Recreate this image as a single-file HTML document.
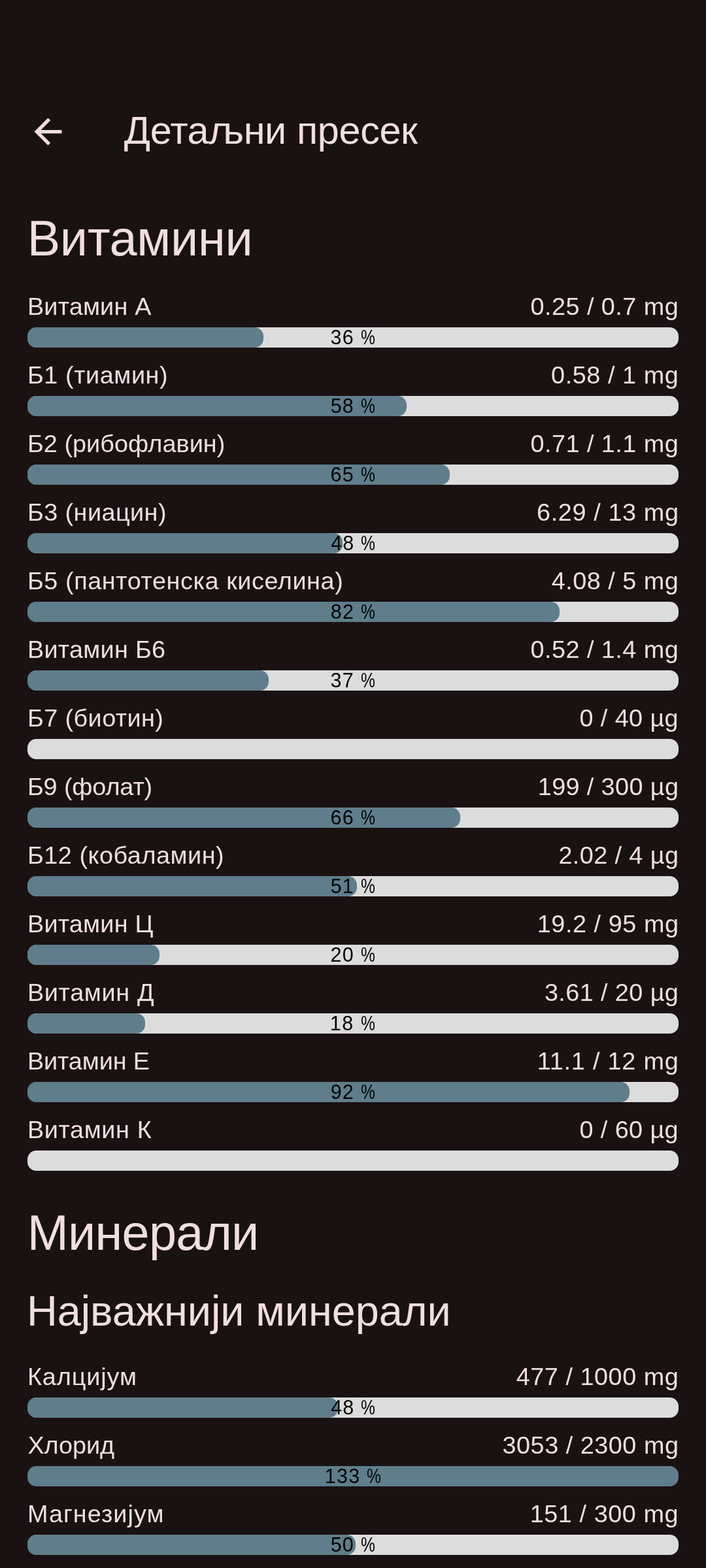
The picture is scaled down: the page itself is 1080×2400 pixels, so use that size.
<!DOCTYPE html>
<html lang="sr">
<head>
<meta charset="utf-8">
<meta name="viewport" content="width=1080">
<title>Детаљни пресек</title>
<style>
html,body{margin:0;padding:0;}
body{width:1080px;height:2400px;background:#1a1112;overflow:hidden;position:relative;font-family:"Liberation Sans", sans-serif;color:#f0dee0;}
header,main,section{display:block;margin:0;padding:0;}
.appbar{position:absolute;left:0;top:144px;width:1080px;height:147px;}
.back{position:absolute;left:42px;top:26px;width:63px;height:63px;}
.t{position:absolute;white-space:nowrap;line-height:1;margin:0;padding:0;font-weight:400;}
.title{font-size:59.4px;}
.h1{font-size:75.6px;}
.h2{font-size:64.8px;}
.lab,.val{font-size:37.8px;}
.pct{font-size:30.5px;color:#000000;}
.pc{display:inline-block;transform:scaleX(.81);transform-origin:0 50%;}
.row{position:absolute;left:0;width:1080px;height:105px;}
.bar{position:absolute;left:42px;width:996px;height:31.5px;border-radius:13.5px;background:#dcdcdc;overflow:hidden;}
.fill{position:absolute;left:0;top:0;height:100%;border-radius:13.5px;background:#607d8b;}
.bar.full{background:#607d8b;}
</style>
</head>
<body>
<header class="appbar">
<svg class="back" viewBox="0 0 24 24" role="img" aria-label="Назад"><path fill="#f0dee0" d="M20 11H7.83l5.59-5.59L12 4l-8 8 8 8 1.41-1.41L7.83 13H20v-2z"/></svg>
<h1 class="t title" style="left:189.85px;top:26px;letter-spacing:-0.37px">Детаљни пресек</h1>
</header>
<main>
<section aria-label="Витамини">
<h2 class="t h1" style="left:41.66px;top:328px;letter-spacing:-0.21px">Витамини</h2>
<div class="row" style="top:440px">
  <div class="t lab" style="left:41.95px;top:11px;letter-spacing:0.19px">Витамин А</div>
  <div class="t val" style="left:811.49px;top:11px;letter-spacing:0.47px">0.25 / 0.7 mg</div>
  <div class="bar" style="top:60.75px;background:linear-gradient(to right,#607d8b 344.8px,#dcdcdc 344.8px)"><div class="fill" style="width:360.8px"></div></div>
  <div class="t pct" style="left:505.57px;top:61px;letter-spacing:1.23px">36 <span class="pc">%</span></div>
</div>
<div class="row" style="top:545px">
  <div class="t lab" style="left:41.95px;top:11px;letter-spacing:0.58px">Б1 (тиамин)</div>
  <div class="t val" style="left:843.05px;top:11px;letter-spacing:0.56px">0.58 / 1 mg</div>
  <div class="bar" style="top:60.75px;background:linear-gradient(to right,#607d8b 563.7px,#dcdcdc 563.7px)"><div class="fill" style="width:579.7px"></div></div>
  <div class="t pct" style="left:505.68px;top:61px;letter-spacing:1.19px">58 <span class="pc">%</span></div>
</div>
<div class="row" style="top:650px">
  <div class="t lab" style="left:41.95px;top:11px;letter-spacing:0.05px">Б2 (рибофлавин)</div>
  <div class="t val" style="left:811.49px;top:11px;letter-spacing:0.47px">0.71 / 1.1 mg</div>
  <div class="bar" style="top:60.75px;background:linear-gradient(to right,#607d8b 630.2px,#dcdcdc 630.2px)"><div class="fill" style="width:646.2px"></div></div>
  <div class="t pct" style="left:505.58px;top:61px;letter-spacing:1.23px">65 <span class="pc">%</span></div>
</div>
<div class="row" style="top:755px">
  <div class="t lab" style="left:41.95px;top:11px;letter-spacing:0.44px">Б3 (ниацин)</div>
  <div class="t val" style="left:821.04px;top:11px;letter-spacing:0.62px">6.29 / 13 mg</div>
  <div class="bar" style="top:60.75px;background:linear-gradient(to right,#607d8b 465.75px,#dcdcdc 465.75px)"><div class="fill" style="width:481.75px"></div></div>
  <div class="t pct" style="left:506.3px;top:61px;letter-spacing:0.99px">48 <span class="pc">%</span></div>
</div>
<div class="row" style="top:860px">
  <div class="t lab" style="left:41.95px;top:11px;letter-spacing:0.58px">Б5 (пантотенска киселина)</div>
  <div class="t val" style="left:843.72px;top:11px;letter-spacing:0.49px">4.08 / 5 mg</div>
  <div class="bar" style="top:60.75px;background:linear-gradient(to right,#607d8b 797.75px,#dcdcdc 797.75px)"><div class="fill" style="width:813.75px"></div></div>
  <div class="t pct" style="left:505.78px;top:61px;letter-spacing:1.16px">82 <span class="pc">%</span></div>
</div>
<div class="row" style="top:965px">
  <div class="t lab" style="left:41.95px;top:11px;letter-spacing:0.28px">Витамин Б6</div>
  <div class="t val" style="left:811.49px;top:11px;letter-spacing:0.47px">0.52 / 1.4 mg</div>
  <div class="bar" style="top:60.75px;background:linear-gradient(to right,#607d8b 353px,#dcdcdc 353px)"><div class="fill" style="width:369px"></div></div>
  <div class="t pct" style="left:505.57px;top:61px;letter-spacing:1.23px">37 <span class="pc">%</span></div>
</div>
<div class="row" style="top:1070px">
  <div class="t lab" style="left:41.95px;top:11px;letter-spacing:0.42px">Б7 (биотин)</div>
  <div class="t val" style="left:886.49px;top:11px;letter-spacing:0.41px">0 / 40 µg</div>
  <div class="bar" style="top:60.75px"></div>
</div>
<div class="row" style="top:1175px">
  <div class="t lab" style="left:41.95px;top:11px;letter-spacing:-0.12px">Б9 (фолат)</div>
  <div class="t val" style="left:822.72px;top:11px;letter-spacing:0.39px">199 / 300 µg</div>
  <div class="bar" style="top:60.75px;background:linear-gradient(to right,#607d8b 645.8px,#dcdcdc 645.8px)"><div class="fill" style="width:661.8px"></div></div>
  <div class="t pct" style="left:505.58px;top:61px;letter-spacing:1.23px">66 <span class="pc">%</span></div>
</div>
<div class="row" style="top:1280px">
  <div class="t lab" style="left:41.95px;top:11px;letter-spacing:0.53px">Б12 (кобаламин)</div>
  <div class="t val" style="left:854.43px;top:11px;letter-spacing:0.41px">2.02 / 4 µg</div>
  <div class="bar" style="top:60.75px;background:linear-gradient(to right,#607d8b 488px,#dcdcdc 488px)"><div class="fill" style="width:504px"></div></div>
  <div class="t pct" style="left:505.68px;top:61px;letter-spacing:1.19px">51 <span class="pc">%</span></div>
</div>
<div class="row" style="top:1385px">
  <div class="t lab" style="left:41.95px;top:11px;letter-spacing:0.23px">Витамин Ц</div>
  <div class="t val" style="left:821.72px;top:11px;letter-spacing:0.56px">19.2 / 95 mg</div>
  <div class="bar" style="top:60.75px;background:linear-gradient(to right,#607d8b 185.75px,#dcdcdc 185.75px)"><div class="fill" style="width:201.75px"></div></div>
  <div class="t pct" style="left:505.38px;top:61px;letter-spacing:1.3px">20 <span class="pc">%</span></div>
</div>
<div class="row" style="top:1490px">
  <div class="t lab" style="left:41.95px;top:11px;letter-spacing:0.67px">Витамин Д</div>
  <div class="t val" style="left:832.93px;top:11px;letter-spacing:0.41px">3.61 / 20 µg</div>
  <div class="bar" style="top:60.75px;background:linear-gradient(to right,#607d8b 164px,#dcdcdc 164px)"><div class="fill" style="width:180px"></div></div>
  <div class="t pct" style="left:504.78px;top:61px;letter-spacing:1.5px">18 <span class="pc">%</span></div>
</div>
<div class="row" style="top:1595px">
  <div class="t lab" style="left:41.95px;top:11px;letter-spacing:-0.1px">Витамин Е</div>
  <div class="t val" style="left:821.72px;top:11px;letter-spacing:0.79px">11.1 / 12 mg</div>
  <div class="bar" style="top:60.75px;background:linear-gradient(to right,#607d8b 904.5px,#dcdcdc 904.5px)"><div class="fill" style="width:920.5px"></div></div>
  <div class="t pct" style="left:505.66px;top:61px;letter-spacing:1.2px">92 <span class="pc">%</span></div>
</div>
<div class="row" style="top:1700px">
  <div class="t lab" style="left:41.95px;top:11px;letter-spacing:0.63px">Витамин К</div>
  <div class="t val" style="left:886.49px;top:11px;letter-spacing:0.41px">0 / 60 µg</div>
  <div class="bar" style="top:60.75px"></div>
</div>
</section>
<section aria-label="Минерали">
<h2 class="t h1" style="left:41.66px;top:1850px;letter-spacing:-0.68px">Минерали</h2>
<h3 class="t h2" style="left:41.05px;top:1975px;letter-spacing:-0.05px">Најважнији минерали</h3>
<div class="row" style="top:2078px">
  <div class="t lab" style="left:41.95px;top:11px;letter-spacing:0.89px">Калцијум</div>
  <div class="t val" style="left:789.66px;top:11px;letter-spacing:0.54px">477 / 1000 mg</div>
  <div class="bar" style="top:60.75px;background:linear-gradient(to right,#607d8b 458.7px,#dcdcdc 458.7px)"><div class="fill" style="width:474.7px"></div></div>
  <div class="t pct" style="left:506.3px;top:61px;letter-spacing:0.99px">48 <span class="pc">%</span></div>
</div>
<div class="row" style="top:2183px">
  <div class="t lab" style="left:42.43px;top:11px;letter-spacing:-0.04px">Хлорид</div>
  <div class="t val" style="left:768.52px;top:11px;letter-spacing:0.52px">3053 / 2300 mg</div>
  <div class="bar full" style="top:60.75px"></div>
  <div class="t pct" style="left:496.75px;top:61px;letter-spacing:1.3px">133 <span class="pc">%</span></div>
</div>
<div class="row" style="top:2288px">
  <div class="t lab" style="left:41.95px;top:11px;letter-spacing:1.04px">Магнезијум</div>
  <div class="t val" style="left:810.66px;top:11px;letter-spacing:0.57px">151 / 300 mg</div>
  <div class="bar" style="top:60.75px;background:linear-gradient(to right,#607d8b 485.9px,#dcdcdc 485.9px)"><div class="fill" style="width:501.9px"></div></div>
  <div class="t pct" style="left:505.68px;top:61px;letter-spacing:1.19px">50 <span class="pc">%</span></div>
</div>
</section>
</main>
</body>
</html>
